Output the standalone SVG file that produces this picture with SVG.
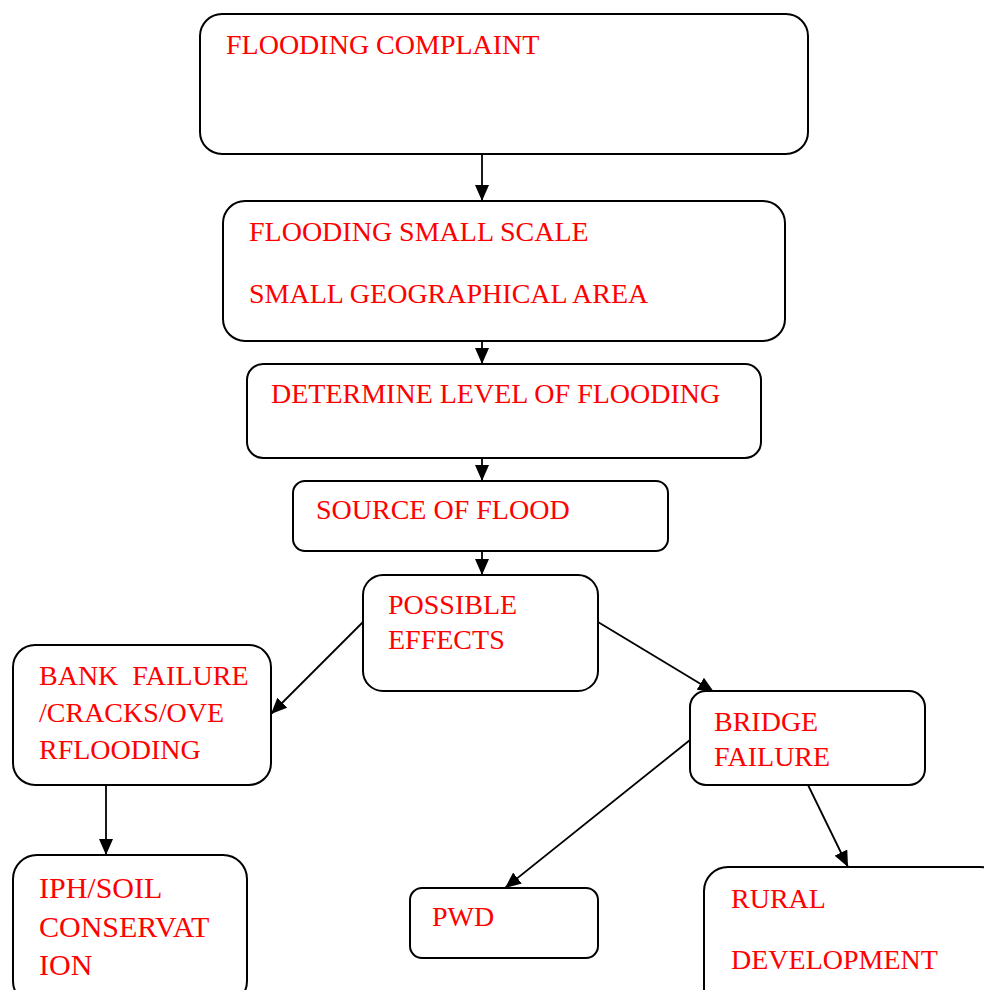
<svg xmlns="http://www.w3.org/2000/svg" width="984" height="990" viewBox="0 0 984 990">
<style>
.box{fill:#fff;stroke:#000;stroke-width:2}
.t{font-family:"Liberation Serif","Times New Roman",serif;font-size:28px;fill:#ff0000}
.big{font-size:30px}
.c{stroke:#000;stroke-width:1.8;fill:none;marker-end:url(#ah)}
</style>
<defs>
<marker id="ah" markerUnits="userSpaceOnUse" markerWidth="16" markerHeight="14" refX="16" refY="7" orient="auto">
<path d="M0,0 L16,7 L0,14 z" fill="#000"/>
</marker>
</defs>
<rect width="984" height="990" fill="#fff"/>
<g id="connectors">
<line class="c" x1="482" y1="154" x2="482" y2="201"/>
<line class="c" x1="482" y1="341" x2="482" y2="364"/>
<line class="c" x1="482" y1="458" x2="482" y2="481"/>
<line class="c" x1="482" y1="551" x2="482" y2="575"/>
<line class="c" x1="363" y1="622" x2="271" y2="714"/>
<line class="c" x1="598" y1="622" x2="714" y2="692"/>
<line class="c" x1="106" y1="785" x2="106" y2="855"/>
<line class="c" x1="690" y1="740" x2="505" y2="888"/>
<line class="c" x1="808" y1="785" x2="848" y2="867"/>
</g>
<g id="n1">
<rect class="box" x="200" y="14" width="608" height="140" rx="22"/>
<text class="t" x="226" y="54">FLOODING COMPLAINT</text>
</g>
<g id="n2">
<rect class="box" x="223" y="201" width="562" height="140" rx="22"/>
<text class="t" x="249" y="241">FLOODING SMALL SCALE</text>
<text class="t" x="249" y="303">SMALL GEOGRAPHICAL AREA</text>
</g>
<g id="n3">
<rect class="box" x="247" y="364" width="514" height="94" rx="16"/>
<text class="t" x="271" y="403">DETERMINE LEVEL OF FLOODING</text>
</g>
<g id="n4">
<rect class="box" x="293" y="481" width="375" height="70" rx="12"/>
<text class="t" x="316" y="519">SOURCE OF FLOOD</text>
</g>
<g id="n5">
<rect class="box" x="363" y="575" width="235" height="116" rx="20"/>
<text class="t" x="388" y="614">POSSIBLE</text>
<text class="t" x="388" y="649">EFFECTS</text>
</g>
<g id="n6">
<rect class="box" x="13" y="645" width="258" height="140" rx="22"/>
<text class="t" x="39" y="685" xml:space="preserve">BANK  FAILURE</text>
<text class="t" x="39" y="722">/CRACKS/OVE</text>
<text class="t" x="39" y="759">RFLOODING</text>
</g>
<g id="n7">
<rect class="box" x="690" y="691" width="235" height="94" rx="16"/>
<text class="t" x="714" y="731">BRIDGE</text>
<text class="t" x="714" y="766">FAILURE</text>
</g>
<g id="n8">
<rect class="box" x="13" y="855" width="234" height="150" rx="24"/>
<text class="t big" x="39" y="898">IPH/SOIL</text>
<text class="t big" x="39" y="937">CONSERVAT</text>
<text class="t big" x="39" y="975">ION</text>
</g>
<g id="n9">
<rect class="box" x="410" y="888" width="188" height="70" rx="12"/>
<text class="t" x="432" y="926">PWD</text>
</g>
<g id="n10">
<rect class="box" x="704" y="867" width="300" height="150" rx="24"/>
<text class="t" x="731" y="908">RURAL</text>
<text class="t" x="731" y="969">DEVELOPMENT</text>
</g>
</svg>
